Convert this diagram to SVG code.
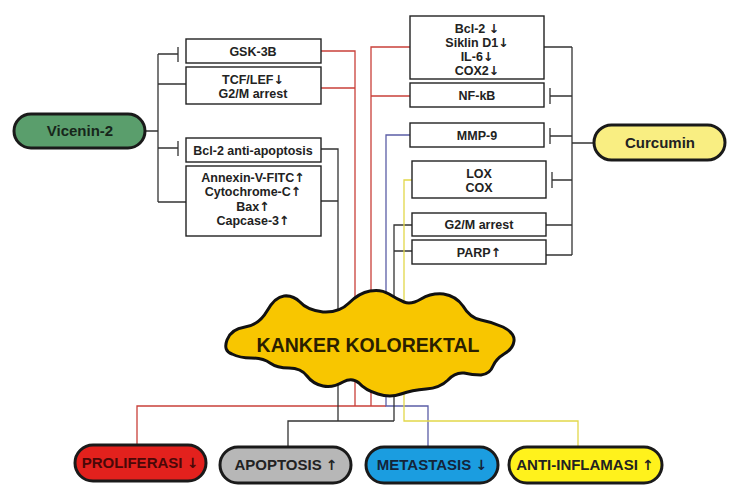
<svg xmlns="http://www.w3.org/2000/svg" width="737" height="494" viewBox="0 0 737 494">
<style>
text{font-family:"Liberation Sans",Arial,sans-serif;font-weight:bold;text-anchor:middle;fill:#222}
.ar{font-family:"DejaVu Sans",sans-serif;font-weight:bold;font-size:12.5px}
.box{fill:#fff;stroke:#222;stroke-width:1.4}
.bt{font-size:12.5px}
.k{fill:none;stroke:#333;stroke-width:1.3}
.r{fill:none;stroke:#c9403a;stroke-width:1.3}
.b{fill:none;stroke:#5b5ea6;stroke-width:1.3}
.y{fill:none;stroke:#e2d84a;stroke-width:1.3}
.pill{stroke:#1a1a1a;stroke-width:3}
.pt{font-size:15px}
.pt .ar{font-size:14px}
</style>
<g id="connectors">
<path class="k" d="M146,131 H158 M158,54 V202 M158,54 H178 M178,47 V62 M158,84 H186 M158,148 H178 M178,141 V156 M158,202 H186"/>
<path class="k" d="M593,143 H572 M572,47 V255 M544,47 H572 M572,96 H550 M550,88 V104 M572,136 H550 M550,128 V144 M572,180 H552 M552,172 V188 M546,225 H572 M546,255 H572"/>
<path class="r" d="M321,51 H355 V406 M321,88 H355 M410,47 H371 V406 M410,96 H371 M386,406 H137 V444"/>
<path class="b" d="M410,135 H386 V406 H428 V447"/>
<path class="k" d="M321,149 H338 V421 M321,201 H338 M412,225 H394 V421 M412,251 H394 M394,421 H288 V446"/>
<path class="y" d="M412,180 H404 V421 H578 V447"/>
</g>
<g id="vicenin">
<rect class="pill" x="14" y="114" width="131" height="34" rx="17" fill="#5a9e6c"/>
<text class="pt" x="80" y="136" style="fill:#17261b">Vicenin-2</text>
</g>
<g id="gsk"><rect class="box" x="186" y="39" width="135" height="24"/><text class="bt" x="253" y="55.5">GSK-3B</text></g>
<g id="tcf"><rect class="box" x="186" y="67" width="135" height="37"/><text class="bt" x="253" y="83.5">TCF/LEF<tspan class="ar">↓</tspan></text><text class="bt" x="253" y="97.5">G2/M arrest</text></g>
<g id="bcl2a"><rect class="box" x="186" y="138" width="135" height="24"/><text class="bt" x="253" y="154.5">Bcl-2 anti-apoptosis</text></g>
<g id="annexin"><rect class="box" x="186" y="166" width="135" height="70"/>
<text class="bt" x="253" y="181.5">Annexin-V-FITC<tspan class="ar">↑</tspan></text><text class="bt" x="253" y="196">Cytochrome-C<tspan class="ar">↑</tspan></text><text class="bt" x="253" y="210.5">Bax<tspan class="ar">↑</tspan></text><text class="bt" x="253" y="225">Capcase-3<tspan class="ar">↑</tspan></text></g>
<g id="bcl2"><rect class="box" x="410" y="16" width="134" height="63"/>
<text class="bt" x="477" y="33">Bcl-2 <tspan class="ar">↓</tspan></text><text class="bt" x="477" y="47">Siklin D1<tspan class="ar">↓</tspan></text><text class="bt" x="477" y="61">IL-6<tspan class="ar">↓</tspan></text><text class="bt" x="477" y="75">COX2<tspan class="ar">↓</tspan></text></g>
<g id="nfkb"><rect class="box" x="410" y="83" width="134" height="24"/><text class="bt" x="477" y="99.5">NF-kB</text></g>
<g id="mmp9"><rect class="box" x="410" y="123" width="134" height="24"/><text class="bt" x="477" y="139.5">MMP-9</text></g>
<g id="loxcox"><rect class="box" x="412" y="161" width="134" height="37"/><text class="bt" x="479" y="177.5">LOX</text><text class="bt" x="479" y="191.5">COX</text></g>
<g id="g2m"><rect class="box" x="412" y="213" width="134" height="23"/><text class="bt" x="479" y="229">G2/M arrest</text></g>
<g id="parp"><rect class="box" x="412" y="240" width="134" height="24"/><text class="bt" x="479" y="256.5">PARP<tspan class="ar">↑</tspan></text></g>
<g id="curcumin">
<rect class="pill" x="594" y="125" width="131" height="35" rx="17.5" fill="#f9ee82"/>
<text class="pt" x="660" y="148" style="fill:#222">Curcumin</text>
</g>
<g id="kanker">
<path fill="#f8c600" stroke="#111" stroke-width="3" stroke-linejoin="round" d="M232,354 Q223,351 227,340 Q231,329 245,327 Q259,325 267,311 Q275,297 284,296 Q293,295 300,302 Q307,310 323,312 Q339,313 349,303 Q359,293 370,291 Q381,289 389,294 Q397,299 404,302 Q411,305 421,299 Q431,293 443.5,294 Q456,296 463,306 Q470,318 481,320 Q492,322 503,327 Q515,333 514,341 Q513,349 504,354 Q496,359 493,366 Q490,374 481,375 Q472,375 464,373 Q455,372 448,380 Q440,388 426,389 Q412,390 401,394 Q390,398 378,394 Q365,390 359,383 Q352,377 343,382 Q333,388 323,386 Q313,384 307,376 Q301,368 289,368 Q277,368 270,363 Q263,358 251,358 Q240,358 232,354 Z"/>
<text x="368" y="352" style="font-size:19.5px;fill:#2a1f00">KANKER KOLOREKTAL</text>
</g>
<g id="proliferasi">
<rect class="pill" x="75" y="445" width="131" height="36" rx="18" fill="#e3211d"/>
<text class="pt" x="140" y="468" style="fill:#4a0808">PROLIFERASI <tspan class="ar" style="fill:#4a0808">↓</tspan></text>
</g>
<g id="apoptosis">
<rect class="pill" x="220" y="447" width="131" height="36" rx="18" fill="#b7b7b7"/>
<text class="pt" x="286" y="470">APOPTOSIS <tspan class="ar">↑</tspan></text>
</g>
<g id="metastasis">
<rect class="pill" x="366" y="447" width="132" height="36" rx="18" fill="#1b9de0"/>
<text class="pt" x="432" y="470" style="fill:#14243a">METASTASIS <tspan class="ar" style="fill:#14243a">↓</tspan></text>
</g>
<g id="antiinflamasi">
<rect class="pill" x="509" y="447" width="153" height="36" rx="18" fill="#fff21c"/>
<text class="pt" x="585" y="470">ANTI-INFLAMASI <tspan class="ar">↑</tspan></text>
</g>
</svg>
